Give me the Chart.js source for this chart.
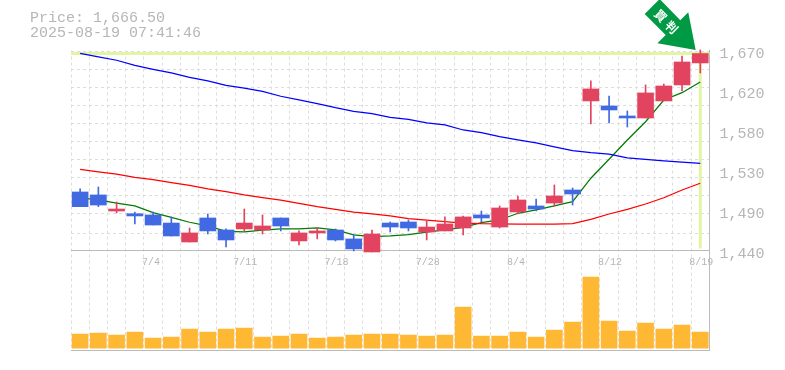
<!DOCTYPE html>
<html><head><meta charset="utf-8">
<style>html,body{margin:0;padding:0;background:#fff}canvas{display:block}</style>
<script src="https://cdn.jsdelivr.net/npm/chart.js@4"></script>
</head><body>
<canvas id="c" width="785" height="370"></canvas>
<script>
const dates = ['6/30','7/1','7/2','7/3','7/4','7/7','7/8','7/9','7/10','7/11','7/14','7/15','7/16','7/17','7/18','7/22','7/23','7/24','7/25','7/28','7/29','7/30','7/31','8/1','8/4','8/5','8/6','8/7','8/8','8/12','8/13','8/14','8/15','8/18','8/19'];
const shownDates = ['7/4','7/11','7/18','7/28','8/4','8/12','8/19'];
const open  = [1507.3,1503.9,1485.4,1482.3,1480.9,1471.6,1449.8,1477.4,1463.6,1464.8,1463.6,1477.4,1451,1460.2,1463.6,1453.3,1438.3,1471.6,1472.8,1461.3,1462.5,1465.9,1480.9,1467,1484.3,1491.2,1494.6,1509.6,1612,1606.2,1594.7,1592.4,1612,1630.4,1655.7];
const close = [1490.4,1492.3,1487.7,1479.7,1469.3,1456.7,1460.2,1462.5,1452.1,1471.6,1468.2,1468.2,1460.2,1462.5,1452.1,1441.8,1459,1467,1465.9,1467,1470.5,1478.6,1477.4,1488.9,1498.1,1487.7,1502.7,1505,1625.8,1601.6,1592.4,1621.2,1629.2,1656.8,1666.5];
const high  = [1510.8,1513,1495.8,1484.3,1484.3,1478.6,1465.9,1482,1464.8,1487.7,1480.9,1477.4,1462.5,1465.9,1464.8,1457.9,1463.6,1472.8,1475.1,1473.9,1478.6,1479.7,1485.4,1491.2,1502.7,1499.2,1515.4,1511.9,1635,1617.7,1600.5,1630.4,1631.5,1663.7,1670.6];
const low   = [1490.4,1490.4,1483.2,1470.5,1469.3,1456.7,1449.8,1459,1444.1,1462.5,1459,1462.5,1446.4,1453.3,1451,1439.5,1438.3,1461.3,1462.5,1452.1,1462.5,1457.9,1472.8,1465.9,1482,1485.4,1491.2,1492.3,1585.5,1586.6,1582,1592.4,1612,1623.5,1644.2];
const maLong  = [1666.8,1662.6,1658.8,1653,1648.4,1644.2,1639.2,1635,1630,1626.6,1623.1,1617.4,1613.1,1608.8,1604.2,1600.1,1597.4,1593.2,1590.9,1586.7,1584.4,1578.6,1575.5,1570.9,1567.1,1563.7,1559.1,1554.8,1552.5,1550.7,1546.4,1544.9,1543,1541.5,1540.3];
const maMid   = [1533.2,1530.3,1527.7,1524.2,1521.4,1518,1515,1510.8,1507.6,1503.9,1500.7,1497.8,1494.3,1490.4,1487.4,1484,1482,1479.7,1476.6,1474.8,1473.1,1471.6,1470.8,1470.5,1470.2,1470.2,1470.2,1470.8,1475.9,1482,1487.4,1493.5,1500.7,1509.6,1517.3];
const maShort = [1500.4,1498.1,1494.6,1491.2,1483.5,1478.2,1472.5,1468.2,1462.1,1461.3,1463.3,1464.8,1464.8,1465.9,1463.6,1457.9,1455.9,1456.7,1458.2,1461,1463.6,1466.7,1472,1475.1,1482.8,1486.6,1491.2,1496.1,1523.1,1544.9,1567.1,1588.1,1613.1,1621.5,1633.8];
const volume  = [14,15,13,16,10,11,19,16,19,20,11,12,14,10,11,13,14,14,13,12,13,41,12,12,16,11,18,26,71,27,17,25,19,23,16];
const priceTicks = [1670,1624,1578,1532,1486,1440];
const priceGrid  = [1669.4,1648.7,1628,1607.3,1586.6,1565.9,1545.2,1524.5,1503.8,1482,1460.1];
const titleLines = ['Price: 1,666.50','2025-08-19 07:41:46'];
const badgeText  = ['買','判'];

const RED='#E2445F', BLUE='#4169E1', GREY='#BBBBBB', TEXT='#B6B6B6', GRID='#DDDDDD', LIME='#E2F5A2', ORANGE='#FFB833', ARROW='#009A44';
const colors = close.map((c,i)=> c>=open[i] ? RED : BLUE);
const MONO = '"Liberation Mono", monospace';

const overlay = {
  id:'overlay',
  beforeDatasetsDraw(chart){
    const {ctx,scales:{x,y}} = chart;
    const last = close.length-1, px = x.getPixelForValue(last), py = y.getPixelForValue(close[last]);
    ctx.save();
    ctx.strokeStyle = LIME; ctx.lineWidth = 3;
    ctx.beginPath();
    ctx.moveTo(x.left,py); ctx.lineTo(x.right,py);
    ctx.moveTo(px,py); ctx.lineTo(px,y.bottom-2);
    ctx.stroke();
    ctx.restore();
  },
  afterDraw(chart){
    const {ctx,scales:{x,y}} = chart;
    const last = close.length-1;
    const tx = x.getPixelForValue(last)-4.6, ty = y.getPixelForValue(close[last])-3.5;
    const pts = [[0,0],[-38.3,-6.7],[-30,-15],[-51,-36],[-36,-51],[-15.4,-29.7],[-7.4,-37.7]];
    ctx.save();
    ctx.fillStyle = ARROW;
    ctx.beginPath();
    pts.forEach((p,i)=> i? ctx.lineTo(tx+p[0],ty+p[1]) : ctx.moveTo(tx+p[0],ty+p[1]));
    ctx.closePath(); ctx.fill();
    ctx.fillStyle = '#fff';
    ctx.font = 'bold 12px "Noto Sans CJK JP"';
    ctx.textAlign='center'; ctx.textBaseline='middle';
    [[-35,-34.3],[-24,-22.7]].forEach((o,i)=>{
      ctx.save();
      ctx.translate(tx+o[0],ty+o[1]);
      ctx.rotate(Math.PI/4);
      ctx.fillText(badgeText[i],0,0);
      ctx.restore();
    });
    ctx.restore();
  }
};

const base = {type:'line',pointRadius:0,tension:0,borderWidth:1.25,fill:false,yAxisID:'y',xAxisID:'x',order:5,clip:false};
new Chart(document.getElementById('c'),{
  type:'bar',
  plugins:[overlay],
  data:{
    labels:dates,
    datasets:[
      {...base,label:'MA long',data:maLong,borderColor:'#0000FF'},
      {...base,label:'MA mid',data:maMid,borderColor:'#FF0000'},
      {...base,label:'MA short',data:maShort,borderColor:'#007A00'},
      {label:'Wick',data:low.map((l,i)=>[l,high[i]]),backgroundColor:colors,borderWidth:0,barThickness:1,grouped:false,yAxisID:'y',order:2,clip:false},
      {label:'Body',data:open.map((o,i)=>[o,close[i]]),backgroundColor:colors,borderWidth:0,barThickness:16,grouped:false,yAxisID:'y',order:1,clip:false},
      {label:'Volume',data:volume,backgroundColor:ORANGE,borderWidth:0,barThickness:16,grouped:false,yAxisID:'yVol',order:3}
    ]
  },
  options:{
    responsive:false,animation:false,
    layout:{padding:{left:30,top:0,right:0,bottom:19.5}},
    plugins:{
      legend:{display:false},tooltip:{enabled:false},
      title:{display:true,text:titleLines,align:'start',color:TEXT,padding:{top:11,bottom:9.5},font:{family:MONO,size:15,weight:'normal',lineHeight:1}}
    },
    scales:{
      x:{
        type:'category',offset:true,position:{y:1440},
        grid:{display:true,offset:true,color:GRID,drawTicks:false},
        border:{display:true,color:GREY,width:1,dash:[3,3]},
        ticks:{autoSkip:false,maxRotation:0,minRotation:0,align:'start',labelOffset:-11,padding:6,color:TEXT,font:{family:MONO,size:10},
          callback(v){const d=dates[v];return shownDates.includes(d)?d:'';}}
      },
      xBottom:{
        type:'category',position:'bottom',
        grid:{display:false},ticks:{display:false},border:{display:true,color:GREY,width:1},
        afterFit(s){s.height=0;}
      },
      yLeft:{
        type:'linear',position:'left',min:0,max:1,
        grid:{display:false},ticks:{display:false},border:{display:false},
        afterFit(s){s.width=41;}
      },
      y:{
        type:'linear',position:'right',stack:'right',stackWeight:2,min:1440,max:1670,
        afterBuildTicks(s){s.ticks=[...new Set([...priceGrid,...priceTicks])].sort((a,b)=>a-b).map(value=>({value}));},
        afterFit(s){s.width=75.6;},
        grid:{display:true,drawTicks:false,color(c){return c.tick&&priceGrid.includes(c.tick.value)?GRID:'rgba(0,0,0,0)';}},
        border:{display:true,color:GREY,width:1,dash:[3,3]},
        ticks:{autoSkip:false,padding:10,labelOffset:4,color:TEXT,font:{family:MONO,size:15},
          callback(v){return priceTicks.includes(v)?(Math.round(v/10)*10).toLocaleString('en-US'):'';}}
      },
      yVol:{
        type:'linear',position:'right',stack:'right',stackWeight:1,min:-2.3,max:97.7,
        afterFit(s){s.width=75.6;},
        grid:{display:false},ticks:{display:false},
        border:{display:true,color:GREY,width:1}
      }
    }
  }
});
</script>
</body></html>
